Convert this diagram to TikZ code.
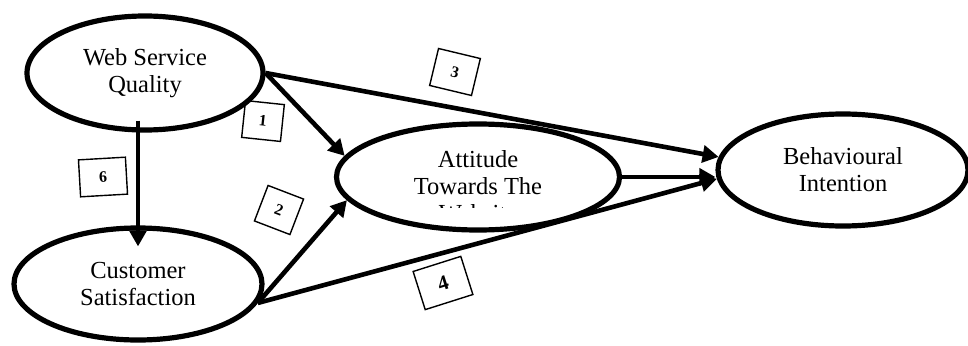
\documentclass[tikz,border=0pt]{standalone}
\usepackage{fontspec}
\setmainfont{Liberation Serif}
\usetikzlibrary{shapes.geometric,arrows.meta}
\begin{document}
\begin{tikzpicture}[x=1pt,y=-1pt,
  construct/.style={ellipse,draw,line width=5.2pt,inner sep=0pt,align=center,
    font=\fontsize{24.5}{27}\selectfont},
  path/.style={line width=4.6pt,-{Triangle[length=16pt,width=17pt]}},
  numbox/.style={draw,line width=1.4pt,inner sep=0pt,font=\bfseries\fontsize{16}{16}\selectfont}
]
\useasboundingbox (0,0) rectangle (968,345);
\node[construct,minimum width=236pt,minimum height=114pt] (wsq) at (145,73) {Web Service\\Quality};
\node[construct,minimum width=248pt,minimum height=112pt] (cs) at (138,284) {Customer\\Satisfaction};
\node[construct,minimum width=283pt,minimum height=106pt] (att) at (478,177) {};
\node[construct,minimum width=250pt,minimum height=112pt] (beh) at (843,170) {Behavioural\\Intention};
\begin{scope}
  \clip (330,120) rectangle (630,207);
  \node[align=center,inner sep=0pt,font=\fontsize{24.5}{27}\selectfont] (atttext) at (478,186) {Attitude\\Towards The\\Website};
\end{scope}
% connectors
\draw[path] (wsq.east) -- (att.171);
\draw[path] (wsq.east) -- (beh.174.5);
\draw[path] (att.east) -- (att.east -| beh.west);
\draw[path] (cs.-9) -- (att.190);
\draw[path] (cs.-9) -- (beh.184.6);
\draw[path] ([xshift=-7pt,yshift=12pt]wsq.south) -- ([yshift=-21pt]cs.north);
% labels
\node[numbox,minimum width=39pt,minimum height=37pt,rotate=-6] (n1) at (263,121) {1};
\node[numbox,minimum width=38pt,minimum height=38pt,rotate=-21] (n2) at (279,210) {2};
\node[numbox,minimum width=43pt,minimum height=38pt,rotate=-13.5] (n3) at (455,72) {3};
\node[numbox,minimum width=50pt,minimum height=40pt,rotate=17.6,font=\bfseries\fontsize{21}{21}\selectfont] (n4) at (443,283) {4};
\node[numbox,minimum width=47pt,minimum height=37pt,rotate=3.3] (n6) at (103,177) {6};
\end{tikzpicture}
\end{document}
